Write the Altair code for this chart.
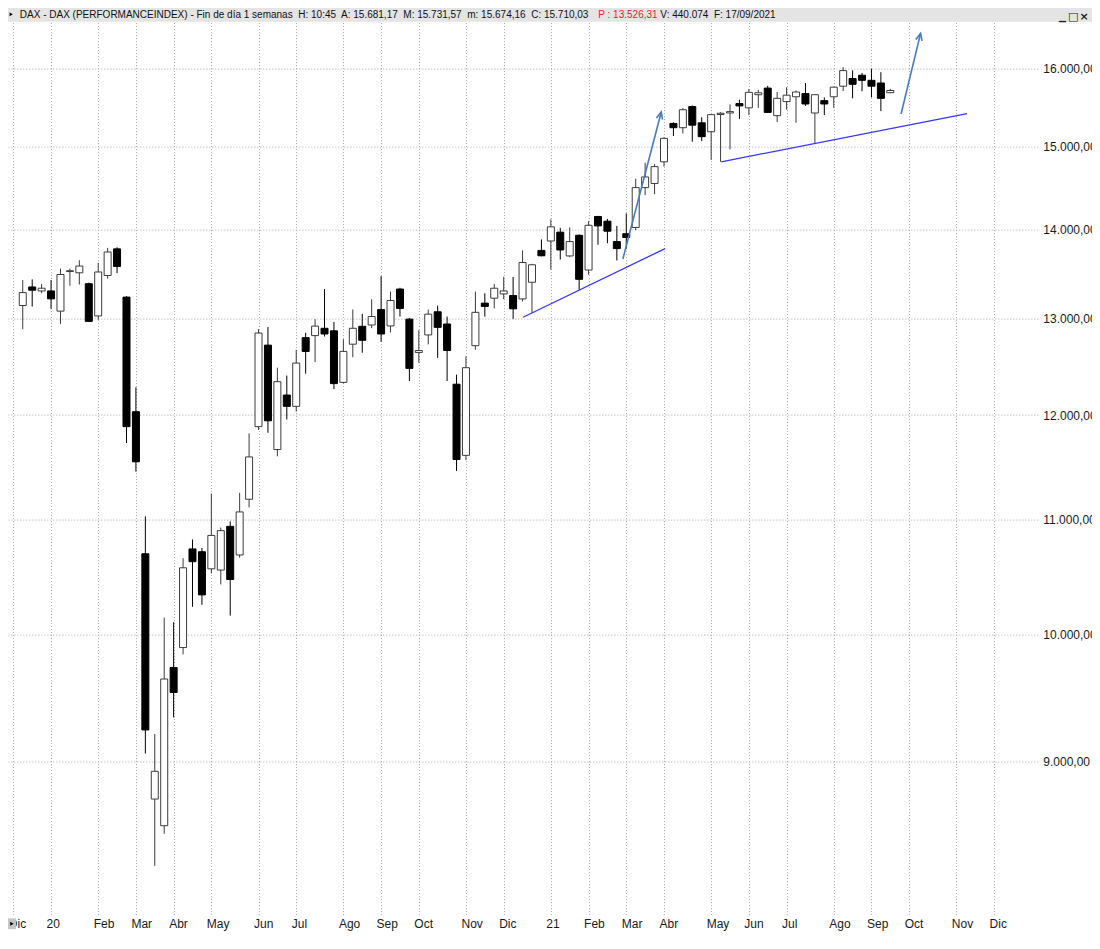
import math
import altair as alt
import pandas as pd

# ---------------- data (weekly DAX candles) ----------------
# week index 0 = week of 9 Dec 2019, index 92 = week of 13 Sep 2021
weeks = list(range(93))
opens = [13142, 13346, 13302, 13302, 13081, 13518, 13504, 13382, 13029, 13474,
         13775, 13234, 12033, 10695, 8725, 8534, 9731, 9894, 10738, 10713,
         10562, 10551, 10941, 10684, 11190, 11885, 12717, 11661, 12201, 12087,
         12796, 12818, 12896, 12869, 12330, 12727, 12917, 12931, 13098, 12921,
         13323, 12994, 12640, 12825, 13074, 12942, 12311, 11605, 12711, 13168,
         13222, 13269, 13251, 13214, 13398, 13757, 13865, 13967, 13694, 13931,
         13535, 14150, 14095, 13858, 13949, 14022, 14493, 14543, 14807, 15286,
         15232, 15502, 15294, 15181, 15400, 15420, 15540, 15485, 15655, 15741,
         15385, 15565, 15628, 15670, 15419, 15578, 15628, 15766, 15867, 15910,
         15843, 15808, 15681]
highs = [13423, 13430, 13379, 13423, 13550, 13552, 13646, 13393, 13616, 13786,
         13793, 13245, 12279, 11032, 9209, 10143, 10104, 10656, 10823, 10747,
         11243, 10930, 10986, 11249, 11819, 12886, 12909, 12481, 12400, 12667,
         12848, 12994, 13323, 12964, 12780, 13099, 13051, 13211, 13466, 13295,
         13337, 13007, 12876, 13098, 13142, 13022, 12409, 12600, 13295, 13277,
         13379, 13458, 13458, 13757, 13605, 13883, 14115, 14017, 14022, 13940,
         14095, 14157, 14121, 14040, 14186, 14600, 14795, 14779, 15110, 15300,
         15482, 15515, 15365, 15400, 15430, 15530, 15590, 15729, 15716, 15770,
         15690, 15753, 15710, 15807, 15660, 15620, 15760, 16016, 15975, 15940,
         15996, 15950, 15731]
lows = [12886, 13131, 13277, 13106, 12943, 13360, 13373, 12964, 12987, 13439,
        13500, 11724, 11450, 9061, 8254, 8477, 9337, 9838, 10234, 10251,
        10523, 10426, 10160, 10660, 11115, 11853, 11825, 11596, 11956, 12034,
        12419, 12539, 12808, 12262, 12320, 12590, 12637, 12897, 12751, 12853,
        13022, 12344, 12532, 12725, 12583, 12344, 11456, 11559, 12667, 13022,
        13110, 13211, 12997, 13185, 13062, 13690, 13540, 13653, 13680, 13315,
        13482, 13822, 13840, 13642, 13780, 13990, 14403, 14414, 14748, 15127,
        15160, 15056, 15064, 14830, 14807, 14960, 15344, 15393, 15485, 15420,
        15304, 15461, 15294, 15510, 15031, 15393, 15485, 15703, 15608, 15699,
        15620, 15443, 15674]
closes = [13284, 13310, 13332, 13215, 13485, 13527, 13580, 12970, 13513, 13739,
          13575, 11885, 11543, 9240, 8928, 9639, 9532, 10571, 10625, 10336,
          10859, 10902, 10469, 11073, 11590, 12845, 11943, 12337, 12087, 12529,
          12650, 12919, 12835, 12317, 12651, 12896, 12768, 13022, 12835, 13197,
          13110, 12474, 12660, 13048, 12906, 12660, 11565, 12481, 13068, 13132,
          13332, 13302, 13106, 13620, 13594, 13696, 14029, 13762, 13858, 13431,
          14047, 14040, 13978, 13778, 13905, 14493, 14622, 14748, 15098, 15232,
          15461, 15264, 15119, 15398, 15416, 15437, 15510, 15686, 15680, 15427,
          15608, 15649, 15690, 15535, 15655, 15535, 15753, 15971, 15791, 15843,
          15766, 15608, 15710]

# month grid lines (week index of first week of each month) and their labels
month_weeks = [-1, 3, 8, 12, 16, 20, 25, 29, 34, 38, 42, 47, 51,
               56, 60, 64, 68, 73, 77, 81, 86, 90, 94, 99, 103]
month_labels = ["Dic", "20", "Feb", "Mar", "Abr", "May", "Jun", "Jul", "Ago", "Sep", "Oct", "Nov", "Dic",
                "21", "Feb", "Mar", "Abr", "May", "Jun", "Jul", "Ago", "Sep", "Oct", "Nov", "Dic"]
price_ticks = [9000, 10000, 11000, 12000, 13000, 14000, 15000, 16000]

# hand-drawn support lines and arrows (week index, index level)
trend_x1 = [53.06, 74.07]
trend_v1 = [13015, 14807]
trend_x2 = [68.12, 100.14]
trend_v2 = [13778, 15411]
arrow_x1 = [63.64, 93.14]
arrow_v1 = [13660, 15406]
arrow_x2 = [67.71, 95.21]
arrow_v2 = [15432, 16472]

header_main = ("DAX - DAX (PERFORMANCEINDEX) - Fin de día 1 semanas\u00a0 H: 10:45\u00a0 "
               "A: 15.681,17\u00a0 M: 15.731,57\u00a0 m: 15.674,16\u00a0 C: 15.710,03")
header_red = "P : 13.526,31"
header_tail = "V: 440.074\u00a0 F: 17/09/2021"

# ---------------- layout ----------------
SX = 1084 / 1100
SY = 925 / 949
W = 1045 * SX
TOP = 15 * SY
H = 915 * SY
BOT = 925 - TOP - H
RIGHT = 1084 - W


def px(xr):
    return xr * SX


def py(yr):
    return (yr - 15) * SY


FONT = "Liberation Sans"
GRID = "#a8a8a8"
x_dom = [(0 - 10) / 9.663, (1045 - 10) / 9.663]
y_dom = [7927.8, 16620.2]

xs = alt.Scale(domain=x_dom, nice=False, zero=False)
ys = alt.Scale(type="log", domain=y_dom, nice=False)

labels_js = "[" + ",".join("'%s'" % s for s in month_labels) + "]"
idx_js = "[" + ",".join(str(v) for v in month_weeks) + "]"
x_expr = labels_js + "[indexof(" + idx_js + ", datum.value)]"

xaxis = alt.Axis(values=month_weeks, labelExpr=x_expr, grid=True, gridColor=GRID,
                 gridDash=[1, 2], gridWidth=1, ticks=False, tickSize=0, domain=False,
                 labelAlign="left", labelBaseline="middle", labelPadding=9, labelOffset=-5,
                 labelFlush=False, labelOverlap=False, labelFont=FONT, labelFontSize=12,
                 labelColor="#1a1a1a", title=None)
yaxis = alt.Axis(orient="right", values=price_ticks,
                 labelExpr="format(datum.value / 1000, 'd') + '.000,00'",
                 grid=True, gridColor=GRID, gridDash=[1, 2], gridWidth=1, ticks=False,
                 tickSize=0, domain=False, labelAlign="left", labelBaseline="middle",
                 labelPadding=5, labelOverlap=False, labelFlush=False, labelFont=FONT,
                 labelFontSize=12, labelColor="#1a1a1a", title=None)

df = pd.DataFrame({"i": weeks, "o": opens, "h": highs, "l": lows, "c": closes})

up = "datum.c >= datum.o"
wicks = alt.Chart(df).mark_rule(strokeWidth=1).encode(
    x=alt.X("i:Q", scale=xs, axis=xaxis),
    y=alt.Y("l:Q", scale=ys, axis=yaxis),
    y2="h:Q",
    color=alt.condition(up, alt.value("#3c3c3c"), alt.value("#000000")),
)
bodies = alt.Chart(df).mark_bar(orient="vertical", size=7, strokeWidth=1).encode(
    x=alt.X("i:Q", scale=xs, axis=xaxis),
    y=alt.Y("o:Q", scale=ys, axis=yaxis),
    y2="c:Q",
    fill=alt.condition(up, alt.value("#ffffff"), alt.value("#000000")),
    stroke=alt.condition(up, alt.value("#3c3c3c"), alt.value("#000000")),
)

trend_df = pd.DataFrame({"x1": trend_x1, "y1": trend_v1, "x2": trend_x2, "y2": trend_v2})
trends = alt.Chart(trend_df).mark_rule(color="#3535ff", strokeWidth=1.3).encode(
    x=alt.X("x1:Q", scale=xs, axis=xaxis), x2="x2:Q",
    y=alt.Y("y1:Q", scale=ys, axis=yaxis), y2="y2:Q",
)


def to_px(i, v):
    x = (i - x_dom[0]) / (x_dom[1] - x_dom[0]) * W
    y = H * (1 - (math.log(v) - math.log(y_dom[0])) / (math.log(y_dom[1]) - math.log(y_dom[0])))
    return x, y


angles = []
for a, b, c, d in zip(arrow_x1, arrow_v1, arrow_x2, arrow_v2):
    x0, y0 = to_px(a, b)
    x1, y1 = to_px(c, d)
    angles.append(math.degrees(math.atan2(x1 - x0, -(y1 - y0))) % 360)

arrow_df = pd.DataFrame({"x1": arrow_x1, "y1": arrow_v1, "x2": arrow_x2, "y2": arrow_v2, "ang": angles})
ARROW = "#4a7cb4"
arrows = alt.Chart(arrow_df).mark_rule(color=ARROW, strokeWidth=1.6).encode(
    x=alt.X("x1:Q", scale=xs, axis=xaxis), x2="x2:Q",
    y=alt.Y("y1:Q", scale=ys, axis=yaxis), y2="y2:Q",
)
heads = alt.Chart(arrow_df).mark_point(shape="M-0.45,1L0,0L0.45,1", filled=False, size=196,
                                       strokeWidth=1.6, color=ARROW, opacity=1).encode(
    x=alt.X("x2:Q", scale=xs, axis=xaxis),
    y=alt.Y("y2:Q", scale=ys, axis=yaxis),
    angle=alt.Angle("ang:Q", scale=None),
)

one = pd.DataFrame({"k": [0]})
band = alt.Chart(one).mark_rect(color="#e4e4e4").encode(
    x=alt.value(0), x2=alt.value(1084), y=alt.value(-TOP), y2=alt.value(py(14)))
head_tri = alt.Chart(one).mark_point(shape="triangle-right", filled=True, size=14, color="#000000",
                                     opacity=1).encode(x=alt.value(px(3.2)), y=alt.value(py(6.5)))
t_main = alt.Chart(pd.DataFrame({"t": [header_main]})).mark_text(
    align="left", baseline="middle", font=FONT, fontSize=10, color="#111111").encode(
    text="t:N", x=alt.value(px(12)), y=alt.value(py(7)))
t_red = alt.Chart(pd.DataFrame({"t": [header_red]})).mark_text(
    align="left", baseline="middle", font=FONT, fontSize=10, color="#f01c1c").encode(
    text="t:N", x=alt.value(px(599)), y=alt.value(py(7)))
t_tail = alt.Chart(pd.DataFrame({"t": [header_tail]})).mark_text(
    align="left", baseline="middle", font=FONT, fontSize=10, color="#111111").encode(
    text="t:N", x=alt.value(px(662)), y=alt.value(py(7)))
btn1 = alt.Chart(pd.DataFrame({"t": ["\u2581"]})).mark_text(
    align="center", baseline="middle", font="DejaVu Sans", fontSize=9, color="#222222").encode(
    text="t:N", x=alt.value(px(1070)), y=alt.value(py(9)))
btn2 = alt.Chart(pd.DataFrame({"t": ["\u25a1"]})).mark_text(
    align="center", baseline="middle", font="DejaVu Sans", fontSize=11, color="#222222").encode(
    text="t:N", x=alt.value(px(1081)), y=alt.value(py(9)))
btn3 = alt.Chart(pd.DataFrame({"t": ["\u00d7"]})).mark_text(
    align="center", baseline="middle", font="DejaVu Sans", fontSize=11, fontWeight="bold",
    color="#222222").encode(
    text="t:N", x=alt.value(px(1092)), y=alt.value(py(9)))

corner = alt.Chart(one).mark_rect(color="#c6c6c6").encode(
    x=alt.value(0), x2=alt.value(px(8)),
    y=alt.value(H + (934 - 930) * SY), y2=alt.value(H + (945 - 930) * SY))
corner_tri = alt.Chart(one).mark_point(shape="triangle-right", filled=True, size=16, color="#000000",
                                       opacity=1).encode(x=alt.value(px(4)),
                                                         y=alt.value(H + (939.5 - 930) * SY))

chart = alt.layer(
    wicks, bodies, trends, arrows, heads,
    band, head_tri, t_main, t_red, t_tail, btn1, btn2, btn3, corner, corner_tri,
).properties(
    width=W, height=H,
    autosize=alt.AutoSizeParams(type="none"),
    padding={"left": 0, "top": TOP, "right": RIGHT, "bottom": BOT},
    background="white",
).configure_view(stroke=None)

chart.save("out.html", embed_options={"renderer": "svg", "actions": False})
